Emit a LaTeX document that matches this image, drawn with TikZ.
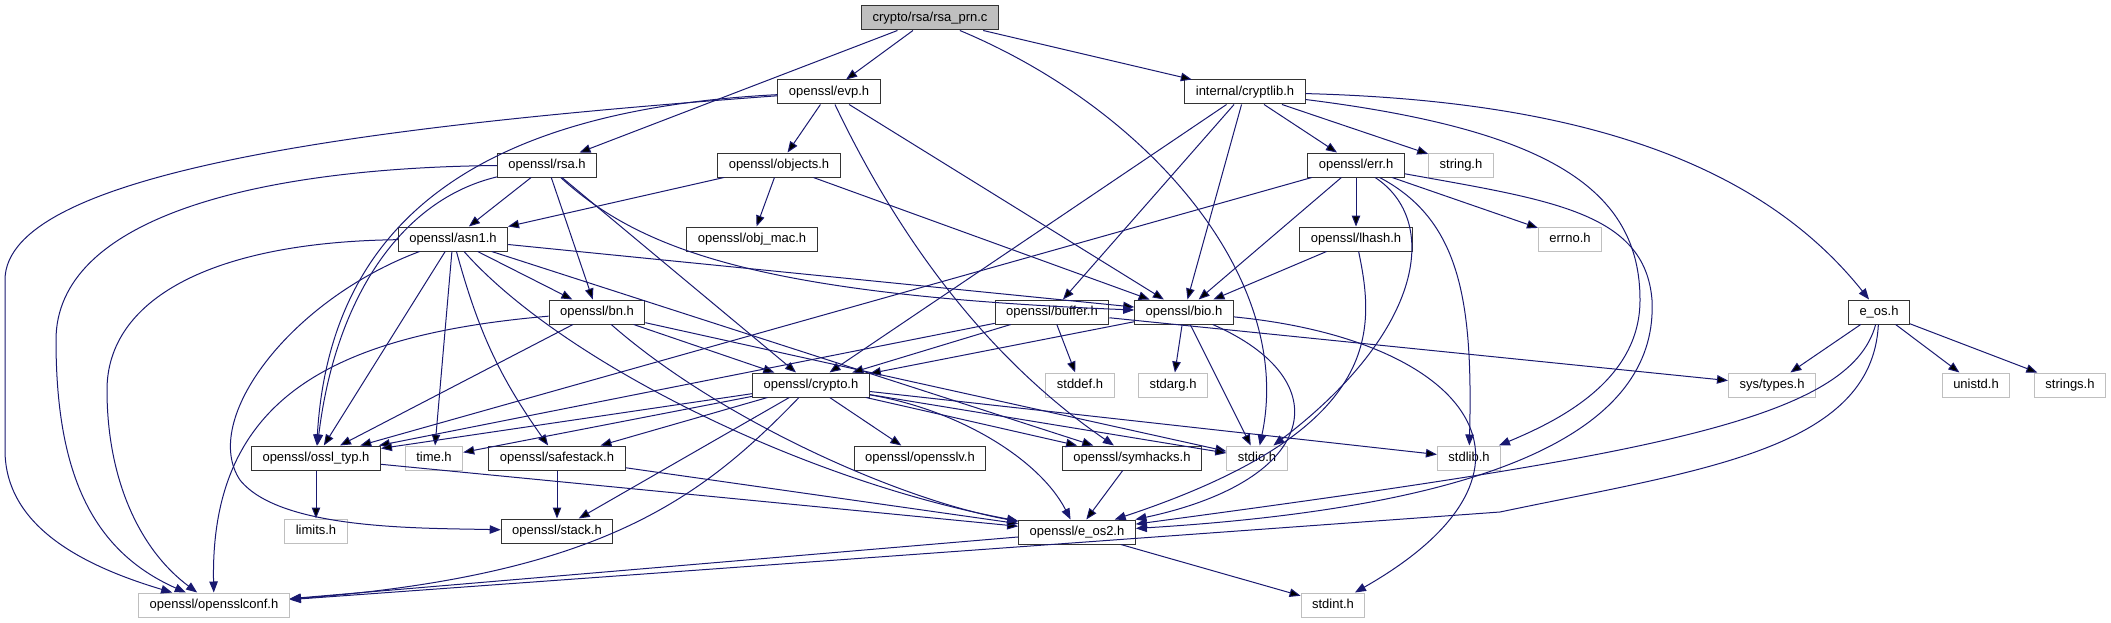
\documentclass[tikz,border=0pt]{standalone}
\usepackage{fontspec}
\setmainfont{Liberation Sans}
\usepackage{xcolor}
\usetikzlibrary{arrows.meta}
\definecolor{edgeblue}{RGB}{25,25,112}
\definecolor{sysgray}{RGB}{191,191,191}

\begin{document}
\begin{tikzpicture}[x=1pt, y=-1pt,
    font=\fontsize{13}{15}\selectfont,
    hdr/.style={draw=black!80, line width=1pt, fill=white, inner xsep=11pt, inner ysep=0pt,
        minimum height=24pt, text height=9.5pt, text depth=2.7pt},
    sys/.style={hdr, draw=sysgray},
    src/.style={hdr, fill=sysgray},
    dep/.style={draw=edgeblue, line width=1pt, -{Triangle[length=11pt,width=8.5pt]}}]
    \useasboundingbox (0,0) rectangle (2111,623);

    % headers, row by row
    \node[src] (rsa_prn) at (930,18) {crypto/rsa/rsa\_prn.c};

    \node[hdr] (evp) at (829,92) {openssl/evp.h};
    \node[hdr] (cryptlib) at (1245,92) {internal/cryptlib.h};

    \node[hdr] (rsa) at (547,165) {openssl/rsa.h};
    \node[hdr] (objects) at (779,165) {openssl/objects.h};
    \node[hdr] (err) at (1356,165) {openssl/err.h};
    \node[sys] (string) at (1461,165) {string.h};

    \node[hdr] (asn1) at (453,239) {openssl/asn1.h};
    \node[hdr] (obj_mac) at (752,239) {openssl/obj\_mac.h};
    \node[hdr] (lhash) at (1356,239) {openssl/lhash.h};
    \node[sys] (errno) at (1570,239) {errno.h};

    \node[hdr] (bn) at (597,312) {openssl/bn.h};
    \node[hdr] (buffer) at (1052,312) {openssl/buffer.h};
    \node[hdr] (bio) at (1184,312) {openssl/bio.h};
    \node[hdr] (e_os) at (1879,312) {e\_os.h};

    \node[hdr] (crypto) at (811,385) {openssl/crypto.h};
    \node[sys] (stddef) at (1080,385) {stddef.h};
    \node[sys] (stdarg) at (1173,385) {stdarg.h};
    \node[sys] (systypes) at (1772,385) {sys/types.h};
    \node[sys] (unistd) at (1976,385) {unistd.h};
    \node[sys] (strings) at (2070,385) {strings.h};

    \node[hdr] (ossl_typ) at (316,458) {openssl/ossl\_typ.h};
    \node[sys] (time) at (434,458) {time.h};
    \node[hdr] (safestack) at (557,458) {openssl/safestack.h};
    \node[hdr] (opensslv) at (920,458) {openssl/opensslv.h};
    \node[hdr] (symhacks) at (1132,458) {openssl/symhacks.h};
    \node[sys] (stdio) at (1257,458) {stdio.h};
    \node[sys] (stdlib) at (1469,458) {stdlib.h};

    \node[sys] (limits) at (316,531) {limits.h};
    \node[hdr] (stack) at (557,531) {openssl/stack.h};
    \node[hdr] (e_os2) at (1077,532) {openssl/e\_os2.h};

    \node[sys] (opensslconf) at (214,605) {openssl/opensslconf.h};
    \node[sys] (stdint) at (1333,605) {stdint.h};

    % straight includes
    \path[dep]
        (rsa_prn) edge (evp)
        (rsa_prn) edge (rsa)
        (rsa_prn) edge (cryptlib)
        (evp) edge (objects)
        (evp) edge (bio)
        (cryptlib) edge (crypto)
        (cryptlib) edge (buffer)
        (cryptlib) edge (bio)
        (cryptlib) edge (err)
        (cryptlib) edge (string)
        (rsa) edge (asn1)
        (rsa) edge (bn)
        (rsa) edge (crypto)
        (objects) edge (asn1)
        (objects) edge (obj_mac)
        (objects) edge (bio)
        (err) edge (ossl_typ)
        (err) edge (bio)
        (err) edge (lhash)
        (err) edge (errno)
        (lhash) edge (bio)
        (asn1) edge (bio)
        (asn1) edge (ossl_typ)
        (asn1) edge (time)
        (asn1) edge[bend right=10] (safestack)
        (asn1) edge (bn)
        (asn1) edge (symhacks)
        (bn) edge (ossl_typ)
        (bn) edge (crypto)
        (bn) edge (stdio)
        (buffer) edge (ossl_typ)
        (buffer) edge (crypto)
        (buffer) edge (stddef)
        (buffer) edge (systypes)
        (bio) edge (crypto)
        (bio) edge (stdarg)
        (bio) edge (stdio)
        (e_os) edge (systypes)
        (e_os) edge (unistd)
        (e_os) edge (strings)
        (crypto) edge (ossl_typ)
        (crypto) edge (time)
        (crypto) edge (safestack)
        (crypto) edge (stack)
        (crypto) edge (opensslv)
        (crypto) edge (symhacks)
        (crypto) edge (stdio)
        (crypto) edge (stdlib)
        (ossl_typ) edge (limits)
        (ossl_typ) edge (e_os2)
        (safestack) edge (stack)
        (safestack) edge (e_os2)
        (symhacks) edge (e_os2)
        (e_os2) edge (opensslconf)
        (e_os2) edge (stdint);

    % curved includes
    \draw[dep] (rsa_prn) .. controls (1150,110) and (1295,280) .. (stdio);
    \draw[dep] (evp) .. controls (890,220) and (975,350) .. (symhacks);
    \draw[dep] (evp) .. controls (380,125) and (5,170) .. (5,280) -- (5,450) .. controls (5,525) and (80,565) .. (opensslconf);
    \draw[dep] (rsa) .. controls (250,168) and (56,220) .. (56,340) .. controls (56,470) and (90,550) .. (opensslconf);
    \draw[dep] (asn1) .. controls (210,242) and (107,300) .. (107,390) .. controls (107,480) and (140,550) .. (opensslconf);
    \draw[dep] (bn) .. controls (330,335) and (210,400) .. (opensslconf);
    \draw[dep] (crypto) .. controls (700,500) and (600,575) .. (opensslconf);
    \draw[dep] (e_os) .. controls (1872,450) and (1700,470) .. (1500,512) -- (opensslconf);
    \draw[dep] (e_os) .. controls (1850,420) and (1650,455) .. (e_os2);
    \draw[dep] (evp) .. controls (480,110) and (330,220) .. (ossl_typ);
    \draw[dep] (rsa) .. controls (400,200) and (335,300) .. (ossl_typ);
    \draw[dep] (asn1) .. controls (290,300) and (200,420) .. (240,480) .. controls (280,530) and (420,528) .. (stack);
    \draw[dep] (asn1) .. controls (560,360) and (800,480) .. (e_os2);
    \draw[dep] (bn) .. controls (720,420) and (900,500) .. (e_os2);
    \draw[dep] (crypto) .. controls (960,410) and (1040,460) .. (e_os2);
    \draw[dep] (rsa) .. controls (640,250) and (760,295) .. (bio);
    \draw[dep] (cryptlib) .. controls (1550,100) and (1750,150) .. (e_os);
    \draw[dep] (cryptlib) .. controls (1550,130) and (1640,190) .. (1640,300) .. controls (1640,380) and (1560,420) .. (stdlib);
    \draw[dep] (err) .. controls (1440,220) and (1425,330) .. (stdio);
    \draw[dep] (err) .. controls (1460,220) and (1473,300) .. (stdlib);
    \draw[dep] (err) .. controls (1550,200) and (1645,212) .. (1652,300) .. controls (1658,420) and (1520,505) .. (e_os2);
    \draw[dep] (lhash) .. controls (1375,330) and (1385,430) .. (e_os2);
    \draw[dep] (bio) .. controls (1340,380) and (1320,480) .. (e_os2);
    \draw[dep] (bio) .. controls (1470,340) and (1570,470) .. (stdint);
\end{tikzpicture}
\end{document}
